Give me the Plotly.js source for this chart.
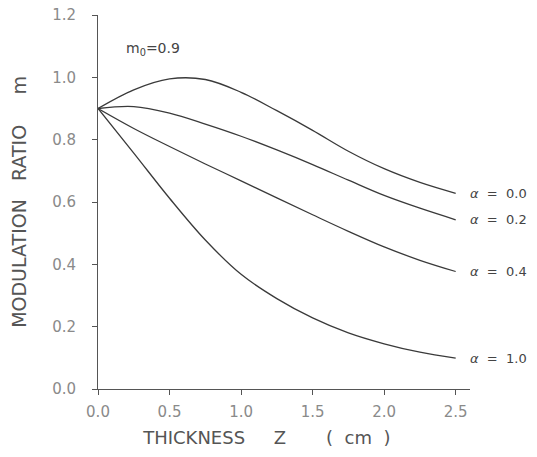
<!DOCTYPE html>
<html>
<head>
<meta charset="utf-8">
<script src="https://cdn.plot.ly/plotly-3.0.1.min.js"></script>
<style>html,body{margin:0;padding:0;background:#fff;}#chart{width:537px;height:457px;}</style>
</head>
<body>
<div id="chart"></div>
<script>
// Thickness Z (cm)
const thickness = [0, 0.25, 0.5, 0.75, 1.0, 1.25, 1.5, 1.75, 2.0, 2.25, 2.5];
// Modulation ratio m for each alpha
const mAlpha00 = [0.90, 0.960, 0.995, 0.993, 0.952, 0.893, 0.830, 0.763, 0.707, 0.663, 0.628];
const mAlpha02 = [0.90, 0.906, 0.885, 0.850, 0.811, 0.767, 0.720, 0.670, 0.621, 0.580, 0.543];
const mAlpha04 = [0.90, 0.836, 0.778, 0.722, 0.668, 0.613, 0.559, 0.506, 0.456, 0.413, 0.377];
const mAlpha10 = [0.90, 0.757, 0.612, 0.478, 0.368, 0.290, 0.228, 0.180, 0.145, 0.118, 0.099];
const seriesNames = ["α = 0.0", "α = 0.2", "α = 0.4", "α = 1.0"];
const seriesValues = [mAlpha00, mAlpha02, mAlpha04, mAlpha10];
const tickVals = [0, 0.5, 1.0, 1.5, 2.0, 2.5];
const yTickVals = [0, 0.2, 0.4, 0.6, 0.8, 1.0, 1.2];

const lineColor = "#3a3a3a";
const traces = seriesValues.map((vals, i) => ({
  x: thickness,
  y: vals,
  type: "scatter",
  mode: "lines",
  name: seriesNames[i],
  line: {color: lineColor, width: 1.3, shape: "spline", smoothing: 1.0},
  hoverinfo: "skip"
}));

const annotations = seriesValues.map((vals, i) => ({
  x: thickness[thickness.length - 1],
  y: vals[vals.length - 1],
  xref: "x", yref: "y",
  text: seriesNames[i].replace(/ /g, "\u00A0\u00A0").replace("α", "<i>α</i>"),
  showarrow: false,
  xanchor: "left",
  yanchor: "middle",
  xshift: 12,
  font: {family: "DejaVu Sans", size: 13, color: "#444"}
}));
annotations.push({
  x: 0.18, y: 1.09, xref: "x", yref: "y",
  text: "m<sub>0</sub>=0.9",
  showarrow: false, xanchor: "left", yanchor: "middle",
  font: {family: "DejaVu Sans", size: 14, color: "#444"}
});

const nb = n => "\u00A0".repeat(n);

const layout = {
  width: 537, height: 457,
  margin: {l: 98, r: 67, t: 15, b: 68},
  paper_bgcolor: "#fff", plot_bgcolor: "#fff",
  showlegend: false,
  font: {family: "DejaVu Sans", color: "#555"},
  xaxis: {
    range: [0, 2.6],
    tickvals: tickVals,
    tickformat: ".1f",
    showgrid: false, zeroline: false,
    showline: true, linecolor: "#555", linewidth: 1,
    ticks: "outside", ticklen: 5, tickcolor: "#555",
    ticklabelstandoff: 4,
    tickfont: {family: "DejaVu Sans", size: 15, color: "#8a8a8a"},
    title: {text: "THICKNESS" + nb(5) + "Z" + nb(7) + "(" + nb(2) + "cm" + nb(2) + ")" + nb(5) + "<span style='color:#fff'>.</span>", standoff: 11,
            font: {family: "DejaVu Sans", size: 18, color: "#555"}}
  },
  yaxis: {
    range: [0, 1.2],
    tickvals: yTickVals,
    tickformat: ".1f",
    showgrid: false, zeroline: false,
    showline: true, linecolor: "#555", linewidth: 1,
    ticks: "outside", ticklen: 5, tickcolor: "#555",
    ticklabelstandoff: 13,
    tickfont: {family: "DejaVu Sans", size: 15, color: "#8a8a8a"},
    title: {text: "MODULATION" + nb(3) + "RATIO" + nb(5) + "m", standoff: 20,
            font: {family: "DejaVu Sans", size: 19, color: "#555"}}
  },
  annotations: annotations
};

Plotly.newPlot("chart", traces, layout, {displayModeBar: false, staticPlot: true});
</script>
</body>
</html>
